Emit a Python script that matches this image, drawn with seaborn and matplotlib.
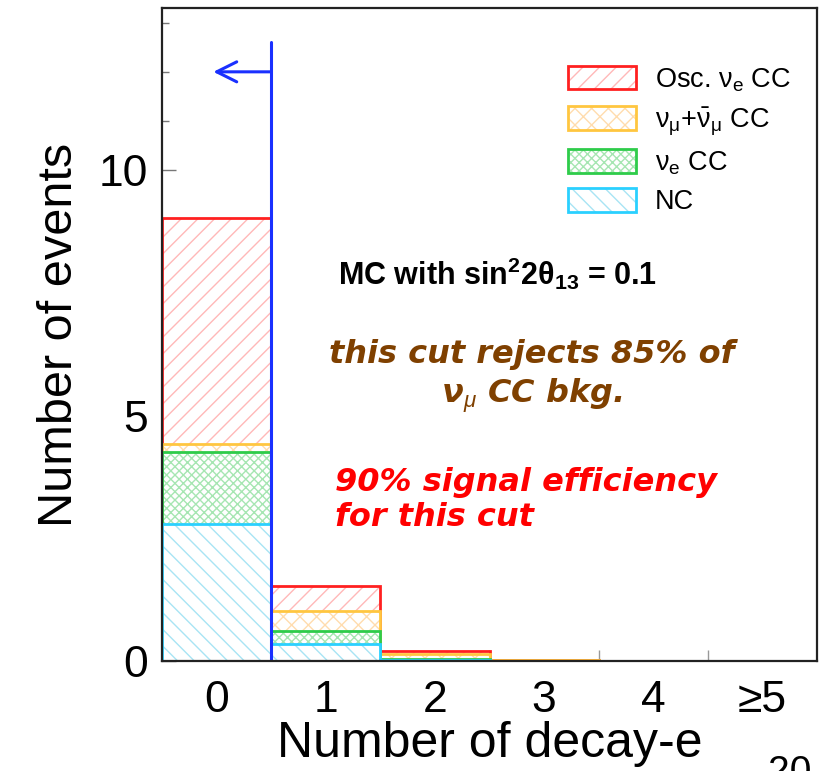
import numpy as np
import pandas as pd
import matplotlib
matplotlib.use('Agg')
import matplotlib.pyplot as plt
import seaborn as sns
from matplotlib.patches import Patch
from matplotlib.legend_handler import HandlerTuple
from matplotlib.ticker import MultipleLocator, FixedLocator

# values (per component, per bin)
bins = ['0', '1', '2', '3', '4', '≥5']
nc = [2.79, 0.35, 0.02, 0.005, 0.0, 0.0]
nue_cc = [1.47, 0.26, 0.03, 0.005, 0.0, 0.0]
numu_cc = [0.16, 0.41, 0.10, 0.005, 0.0, 0.0]
osc_nue = [4.60, 0.51, 0.05, 0.015, 0.0, 0.0]

labels = [r'Osc. $\mathrm{\nu}_{\mathrm{e}}$ CC',
          r'$\mathrm{\nu}_{\mathrm{\mu}}$+$\bar{\mathrm{\nu}}_{\mathrm{\mu}}$ CC',
          r'$\mathrm{\nu}_{\mathrm{e}}$ CC',
          'NC']

sns.set_style('ticks')
plt.rcParams['font.family'] = ['Liberation Sans', 'DejaVu Sans']
plt.rcParams['text.color'] = 'black'
plt.rcParams['axes.labelcolor'] = 'black'
plt.rcParams['xtick.labelcolor'] = 'black'
plt.rcParams['ytick.labelcolor'] = 'black'
plt.rcParams['mathtext.fontset'] = 'custom'
plt.rcParams['mathtext.rm'] = 'Liberation Sans'
plt.rcParams['mathtext.it'] = 'Liberation Sans:italic'
plt.rcParams['mathtext.bf'] = 'Liberation Sans:bold'
plt.rcParams['hatch.linewidth'] = 1.0

# stack from the bottom: NC, nue CC, numu CC, osc nue
stack = np.cumsum(np.array([nc, nue_cc, numu_cc, osc_nue]), axis=0)
df = pd.DataFrame({'bin': bins, 'NC': stack[0], 'nue': stack[1],
                   'numu': stack[2], 'osc': stack[3]})

styles = [  # column, outline colour, hatch colour, hatch
    ('osc', '#ff2020', '#ffb8b8', '//'),
    ('numu', '#ffc640', '#ffdcae', 'xx'),
    ('nue', '#2ecc4a', '#a6e6b2', 'xxxx'),
    ('NC', '#2ad0ff', '#a8e4f4', '\\\\'),
]

fig = plt.figure(figsize=(8.27, 7.71), dpi=100)
ax = fig.add_axes([162 / 827, 1 - 661 / 771, (817 - 162) / 827, (661 - 8) / 771])

for col, c_line, c_hatch, h in styles:
    sns.barplot(data=df, x='bin', y=col, width=1.0, color='white',
                edgecolor=c_hatch, hatch=h, linewidth=0, errorbar=None,
                saturation=1, ax=ax)
    sns.barplot(data=df, x='bin', y=col, width=1.0, color=c_line, fill=False,
                linewidth=2, errorbar=None, saturation=1, ax=ax)

ax.set_xlim(-0.5, 5.5)
ax.set_ylim(0, 13.3)

# cut line and arrow
blue = '#1a30ff'
ax.plot([0.5, 0.5], [0, 12.6], color=blue, lw=2.2, zorder=5)
ax.annotate('', xy=(-0.03, 12.0), xytext=(0.5, 12.0),
            arrowprops=dict(arrowstyle='->', color=blue, lw=2.2,
                            mutation_scale=36, shrinkA=0, shrinkB=0), zorder=5)

# axes styling
for s in ax.spines.values():
    s.set_color('#222222')
    s.set_linewidth(1.6)
    s.set_zorder(6)
ax.yaxis.set_major_locator(MultipleLocator(5))
ax.yaxis.set_minor_locator(MultipleLocator(1))
ax.xaxis.set_minor_locator(FixedLocator([0.5, 1.5, 2.5, 3.5, 4.5]))
ax.tick_params(axis='y', which='major', direction='in', length=10, width=1,
               color='#777777', labelsize=32, pad=10)
ax.tick_params(axis='y', which='minor', direction='in', length=5, width=1,
               color='#777777')
ax.tick_params(axis='x', which='major', length=0, labelsize=32, pad=14)
ax.tick_params(axis='x', which='minor', direction='in', length=8, width=1,
               color='#999999')

ax.set_xlabel('Number of decay-e', fontsize=36, labelpad=0)
ax.set_ylabel('Number of events', fontsize=35, labelpad=12)

# legend: pale hatched box with strong outline
handles = []
for col, c_line, c_hatch, h in styles:
    p1 = Patch(facecolor='white', edgecolor=c_hatch, hatch=h, linewidth=0)
    p2 = Patch(facecolor='none', edgecolor=c_line, linewidth=2)
    handles.append((p1, p2))
fig.legend(handles, labels, handler_map={tuple: HandlerTuple(ndivide=1, pad=0)},
           loc='upper left', bbox_to_anchor=(568 / 827, 1 - 66 / 771),
           frameon=False, fontsize=19.5, handlelength=2.5, handleheight=0.95,
           handletextpad=0.7, labelspacing=0.43, borderpad=0, borderaxespad=0)

# annotations
fig.text(338 / 827, 1 - 274 / 771,
         r'MC with sin$^{\mathbf{2}}$2θ$_{\mathbf{13}}$ = 0.1',
         fontsize=22, fontweight='bold', family=['Liberation Sans', 'DejaVu Sans'],
         ha='left', va='center')
fig.text(532 / 827, 1 - 377 / 771, 'this cut rejects 85% of\nν$_{μ}$ CC bkg.',
         fontsize=23, fontweight='bold', style='italic', color='#7f4000',
         family='DejaVu Sans', ha='center', va='center', linespacing=1.2)
fig.text(335 / 827, 1 - 500 / 771, '90% signal efficiency\nfor this cut',
         fontsize=23, fontweight='bold', style='italic', color='#ff0000',
         family='DejaVu Sans', ha='left', va='center', linespacing=1.15)
fig.text(790 / 827, 1 - 755 / 771, '20', fontsize=28, ha='center', va='top')

fig.savefig('out.png', dpi=100)
